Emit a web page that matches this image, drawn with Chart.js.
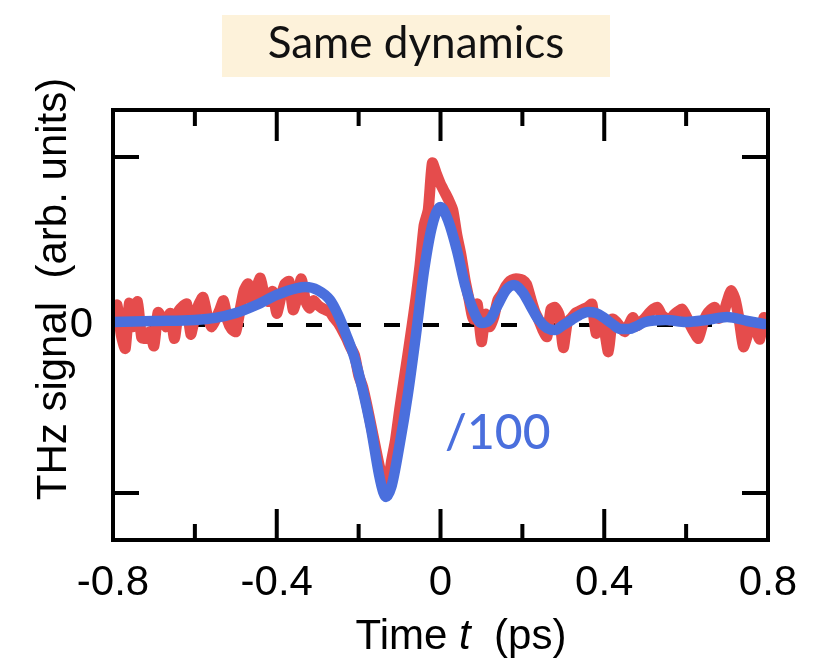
<!DOCTYPE html>
<html><head><meta charset="utf-8">
<script src="https://cdn.jsdelivr.net/npm/chart.js@4.4.0/dist/chart.umd.min.js"></script>
<style>html,body{margin:0;padding:0;background:#fff}canvas{display:block}</style>
</head><body>
<canvas id="c" width="826" height="663"></canvas>
<script>
// ---- data (time in ps, signal in arb. units; tick marks at +/-1) ----
const redT = [-0.80,-0.79,-0.78,-0.77,-0.76,-0.75,-0.74,-0.73,-0.72,-0.71,
-0.70,-0.69,-0.68,-0.67,-0.66,-0.65,-0.64,-0.63,-0.62,-0.61,
-0.60,-0.59,-0.58,-0.57,-0.56,-0.55,-0.54,-0.53,-0.52,-0.51,
-0.50,-0.49,-0.48,-0.47,-0.46,-0.45,-0.44,-0.43,-0.42,-0.41,
-0.40,-0.39,-0.38,-0.37,-0.36,-0.35,-0.34,-0.33,-0.32,-0.31,
-0.30,-0.29,-0.28,-0.27,-0.26,-0.25,-0.24,-0.23,-0.22,-0.21,
-0.20,-0.19,-0.18,-0.17,-0.16,-0.15,-0.14,-0.13,-0.12,-0.11,
-0.10,-0.09,-0.08,-0.07,-0.06,-0.05,-0.04,-0.03,-0.02,-0.01,
0.00,0.01,0.02,0.03,0.04,0.05,0.06,0.07,0.08,0.09,
0.10,0.11,0.12,0.13,0.14,0.15,0.16,0.17,0.18,0.19,
0.20,0.21,0.22,0.23,0.24,0.25,0.26,0.27,0.28,0.29,
0.30,0.31,0.32,0.33,0.34,0.35,0.36,0.37,0.38,0.39,
0.40,0.41,0.42,0.43,0.44,0.45,0.46,0.47,0.48,0.49,
0.50,0.51,0.52,0.53,0.54,0.55,0.56,0.57,0.58,0.59,
0.60,0.61,0.62,0.63,0.64,0.65,0.66,0.67,0.68,0.69,
0.70,0.71,0.72,0.73,0.74,0.75,0.76,0.77,0.78,0.79,
0.80];
const redY = [0.018,0.120,-0.060,-0.140,0.130,-0.010,0.140,-0.075,-0.080,-0.040,
-0.125,0.075,0.040,-0.010,0.070,-0.080,0.080,0.110,0.125,-0.055,
0.050,0.125,0.165,0.060,-0.010,0.030,0.085,0.145,0.025,-0.025,
-0.040,0.085,0.205,0.245,0.140,0.215,0.280,0.170,0.140,0.200,
0.070,0.165,0.245,0.260,0.090,0.165,0.275,0.145,0.100,0.145,
0.119,0.101,0.089,0.077,0.042,0.012,-0.030,-0.077,-0.131,-0.179,
-0.298,-0.369,-0.476,-0.595,-0.714,-0.833,-0.929,-0.975,-0.815,-0.685,
-0.506,-0.339,-0.179,-0.012,0.161,0.357,0.595,0.685,0.965,0.900,
0.839,0.792,0.744,0.685,0.536,0.417,0.268,0.149,0.035,0.125,
-0.100,0.065,-0.010,0.045,0.149,0.185,0.232,0.262,0.274,0.274,
0.268,0.244,0.161,0.083,0.030,-0.030,-0.070,0.095,0.105,0.060,
-0.135,0.018,0.042,0.071,0.083,0.095,0.107,0.125,-0.050,0.045,
-0.025,-0.160,0.035,0.018,-0.015,-0.040,0,0.045,-0.005,0.018,
0.042,0.071,0.095,0.105,0.060,0.040,0.030,0.060,0.080,0.095,
0.054,0.000,-0.045,-0.080,0,0.060,0.090,0.105,0.040,0.060,
0.140,0.205,0.150,0.025,-0.130,-0.060,0.005,-0.025,-0.085,0.045,
-0.018];
const blueT = [-0.80,-0.70,-0.60,-0.55,-0.50,-0.45,-0.40,-0.35,-0.33,-0.30,
-0.27,-0.25,-0.23,-0.21,-0.19,-0.17,-0.15,-0.14,-0.133,-0.12,
-0.10,-0.08,-0.06,-0.04,-0.02,0.00,0.02,0.04,0.06,0.08,
0.10,0.12,0.14,0.16,0.18,0.20,0.22,0.24,0.26,0.28,
0.30,0.32,0.34,0.36,0.38,0.40,0.42,0.44,0.46,0.48,
0.50,0.55,0.60,0.65,0.70,0.75,0.79];
const blueY = [0.018,0.024,0.030,0.042,0.071,0.119,0.179,0.220,0.226,0.208,
0.149,0.060,-0.060,-0.196,-0.387,-0.613,-0.893,-0.994,-1.024,-0.964,
-0.714,-0.417,-0.060,0.327,0.595,0.702,0.613,0.446,0.238,0.089,
0.012,0.030,0.119,0.208,0.238,0.196,0.113,0.030,-0.018,-0.030,
0,0.030,0.060,0.077,0.071,0.042,0.006,-0.024,-0.024,-0.006,
0.018,0.030,0.018,0.030,0.048,0.024,0.006];
const xRange = [-0.8, 0.8];
const yRange = [-1.28, 1.28];
const xLabelStep = 0.4;
const xMajorMarks = [-0.4, 0, 0.4];
const xMinorMarks = [-0.6, -0.2, 0.2, 0.6];
const yMarks = [-1, 1];
const titleText = 'Same dynamics';
const xTitleParts = ['Time ', 't', '  (ps)'];
const yTitleText = 'THz signal  (arb. units)';
const noteText = '/100';

const RED = 'rgb(229,76,76)';
const BLUE = 'rgb(74,111,221)';
const AXIS_FONT = "'Liberation Sans',Arial,sans-serif";
const TITLE_FONT = "Lato,'Noto Sans',sans-serif";
const AXIS_SIZE = 42;

const deco = {
  id: 'deco',
  beforeDraw(chart) {
    const ctx = chart.ctx;
    ctx.save();
    ctx.fillStyle = '#FDF2DA';
    ctx.fillRect(222, 15, 388, 62);
    ctx.fillStyle = '#111';
    ctx.font = `400 44px ${TITLE_FONT}`;
    ctx.textAlign = 'center';
    ctx.textBaseline = 'alphabetic';
    ctx.fillText(titleText, 416, 58);
    ctx.restore();
  },
  beforeDatasetsDraw(chart) {
    const {ctx, chartArea: a, scales: {y}} = chart;
    const y0 = y.getPixelForValue(0);
    ctx.save();
    ctx.strokeStyle = '#000';
    ctx.lineWidth = 4;
    ctx.setLineDash([16, 23]);
    ctx.lineDashOffset = 2;
    ctx.beginPath();
    ctx.moveTo(a.left, y0);
    ctx.lineTo(a.right, y0);
    ctx.stroke();
    ctx.restore();
  },
  afterDatasetsDraw(chart) {
    const {ctx, chartArea: a, scales: {x, y}} = chart;
    ctx.save();
    ctx.strokeStyle = '#000';
    ctx.lineWidth = 4;
    ctx.lineCap = 'butt';
    ctx.strokeRect(a.left, a.top, a.right - a.left, a.bottom - a.top);
    ctx.beginPath();
    const vt = (vals, len) => vals.forEach(v => {
      const px = x.getPixelForValue(v);
      ctx.moveTo(px, a.bottom); ctx.lineTo(px, a.bottom - len);
      ctx.moveTo(px, a.top); ctx.lineTo(px, a.top + len);
    });
    vt(xMajorMarks, 31);
    vt(xMinorMarks, 16);
    yMarks.forEach(v => {
      const py = y.getPixelForValue(v);
      ctx.moveTo(a.left, py); ctx.lineTo(a.left + 26, py);
      ctx.moveTo(a.right, py); ctx.lineTo(a.right - 26, py);
    });
    ctx.stroke();
    ctx.restore();
  },
  afterDraw(chart) {
    const {ctx, scales: {x, y}} = chart;
    ctx.save();
    ctx.fillStyle = '#000';
    // y title
    ctx.save();
    ctx.translate(66, 289);
    ctx.rotate(-Math.PI / 2);
    ctx.font = `${AXIS_SIZE}px ${AXIS_FONT}`;
    ctx.textAlign = 'center';
    ctx.textBaseline = 'alphabetic';
    ctx.fillText(yTitleText, 0, 0);
    ctx.restore();
    // x title with italic t
    const fonts = [`${AXIS_SIZE}px ${AXIS_FONT}`, `italic ${AXIS_SIZE}px ${AXIS_FONT}`, `${AXIS_SIZE}px ${AXIS_FONT}`];
    const widths = xTitleParts.map((s, i) => { ctx.font = fonts[i]; return ctx.measureText(s).width; });
    const total = widths.reduce((p, c) => p + c, 0);
    let cx = 461 - total / 2;
    ctx.textAlign = 'left';
    ctx.textBaseline = 'alphabetic';
    xTitleParts.forEach((s, i) => { ctx.font = fonts[i]; ctx.fillText(s, cx, 649); cx += widths[i]; });
    // scale note
    ctx.fillStyle = BLUE;
    ctx.font = `500 48px ${TITLE_FONT}`;
    ctx.textAlign = 'center';
    ctx.fillText(noteText, x.getPixelForValue(0.14), y.getPixelForValue(-0.74));
    ctx.restore();
  }
};

new Chart(document.getElementById('c'), {
  type: 'line',
  data: {
    datasets: [
      { label: 'fit', data: blueT.map((t, i) => ({x: t, y: blueY[i]})), borderColor: BLUE, borderWidth: 10.5,
        pointRadius: 0, cubicInterpolationMode: 'monotone', borderCapStyle: 'round', borderJoinStyle: 'round', order: 0 },
      { label: 'signal', data: redT.map((t, i) => ({x: t, y: redY[i]})), borderColor: RED, borderWidth: 11,
        pointRadius: 0, tension: 0.2, borderCapStyle: 'round', borderJoinStyle: 'round', order: 1 }
    ]
  },
  options: {
    responsive: false,
    animation: false,
    layout: { padding: { left: 0, right: 58, top: 110, bottom: 0 } },
    plugins: {
      legend: { display: false },
      tooltip: { enabled: false },
      title: { display: false }
    },
    scales: {
      x: {
        type: 'linear', min: xRange[0], max: xRange[1],
        grid: { display: false }, border: { display: false },
        ticks: { stepSize: xLabelStep, color: '#000', padding: 10,
          font: { family: AXIS_FONT, size: AXIS_SIZE },
          callback: v => Math.abs(v) < 1e-9 ? '0' : v.toFixed(1) },
        afterFit: s => { s.height = 123; }
      },
      y: {
        type: 'linear', min: yRange[0], max: yRange[1],
        grid: { display: false }, border: { display: false },
        ticks: { stepSize: 1, color: '#000', padding: 12,
          font: { family: AXIS_FONT, size: AXIS_SIZE },
          callback: v => Math.abs(v) < 1e-9 ? '0' : '' },
        afterFit: s => { s.width = 113; }
      }
    }
  },
  plugins: [deco]
});
</script>
</body></html>
